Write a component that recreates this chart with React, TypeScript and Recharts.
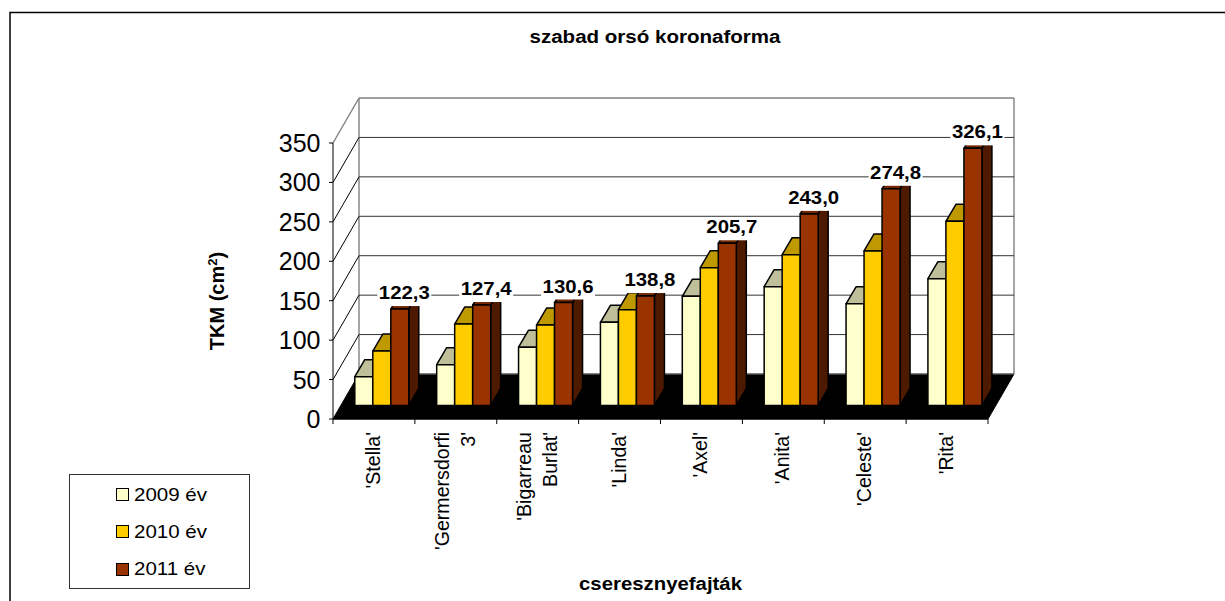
import React from "react";
import { BarChart, Bar, XAxis, YAxis, CartesianGrid, Legend, LabelList } from "recharts";

const categories = ["'Stella'", "'Germersdorfi|3'", "'Bigarreau|Burlat'", "'Linda'", "'Axel'", "'Anita'", "'Celeste'", "'Rita'"];
const values2009 = [36.5, 51.8, 74, 105.5, 138.4, 150.7, 129, 160.8];
const values2010 = [69, 103.3, 102, 121.5, 174.8, 191.2, 196, 233.6];
const values2011 = [122.3, 127.4, 130.6, 138.8, 205.7, 243.0, 274.8, 326.1];
const yTicks = [0, 50, 100, 150, 200, 250, 300, 350];
const seriesNames = ["2009 év", "2010 év", "2011 év"];

const data = categories.map((c, i) => ({ name: c, a: values2009[i], b: values2010[i], c: values2011[i] }));

const FONT = "Liberation Sans, Arial, sans-serif";
const WALL_DX = 26;
const WALL_DY = -45;
const BAR_DX = 7.8;
const BAR_DY = -13.5;
const DEPTH_DX = 10;
const DEPTH_DY = -17;
const STROKE = 1.5;

const makeBox = (front: string, top: string, side: string) => (p: any) => {
  const x = p.x + BAR_DX, y = p.y + BAR_DY, w = p.width, h = p.height;
  const poly = (pts: number[][], fill: string) => (
    <polygon points={pts.map((q) => q.join(",")).join(" ")} fill={fill} stroke="#000" strokeWidth={STROKE} strokeLinejoin="round" />
  );
  return (
    <g>
      {poly([[x, y], [x + DEPTH_DX, y + DEPTH_DY], [x + w + DEPTH_DX, y + DEPTH_DY], [x + w, y]], top)}
      {poly([[x + w, y], [x + w + DEPTH_DX, y + DEPTH_DY], [x + w + DEPTH_DX, y + h + DEPTH_DY], [x + w, y + h]], side)}
      {poly([[x, y], [x + w, y], [x + w, y + h], [x, y + h]], front)}
    </g>
  );
};

const GridLine = (p: any) => {
  const { x1, x2, y1 } = p;
  const isBase = Math.abs(y1 - 419) < 1;
  const isTop = Math.abs(y1 - 143) < 1;
  return (
    <g>
      {isBase && (
        <>
          <line x1={x1 + WALL_DX} x2={x1 + WALL_DX} y1={143 + WALL_DY} y2={419 + WALL_DY} stroke="#808080" strokeWidth={1.4} />
          <line x1={x2 + WALL_DX} x2={x2 + WALL_DX} y1={143 + WALL_DY} y2={419 + WALL_DY} stroke="#808080" strokeWidth={1.4} />
          <polygon
            points={`${x1},${y1} ${x2},${y1} ${x2 + WALL_DX},${y1 + WALL_DY} ${x1 + WALL_DX},${y1 + WALL_DY}`}
            fill="#000"
            stroke="#000"
          />
          <line x1={x1 + WALL_DX} x2={x2 + WALL_DX} y1={y1 + WALL_DY} y2={y1 + WALL_DY} stroke="#808080" strokeWidth={1.2} />
        </>
      )}
      {!isBase && (
        <>
          <line x1={x1} y1={y1} x2={x1 + WALL_DX} y2={y1 + WALL_DY} stroke={isTop ? "#808080" : "#000"} strokeWidth={isTop ? 1.4 : 1} />
          <line x1={x1 + WALL_DX} y1={y1 + WALL_DY} x2={x2 + WALL_DX} y2={y1 + WALL_DY} stroke={isTop ? "#808080" : "#333"} strokeWidth={isTop ? 1.4 : 1} />
        </>
      )}
    </g>
  );
};

const XTick = (p: any) => {
  const { x, y, payload, index } = p;
  const band = 655 / 8;
  const lines = String(payload.value).split("|");
  const last = index === categories.length - 1;
  const lh = 26;
  const cx = x - 1;
  return (
    <g>
      <line x1={x - band / 2} x2={x - band / 2} y1={y} y2={y + 5} stroke="#000" />
      {last && <line x1={x + band / 2} x2={x + band / 2} y1={y} y2={y + 5} stroke="#000" />}
      {lines.map((t, i) => {
        const tx = cx + (i - (lines.length - 1) / 2) * lh;
        return (
          <text key={i} x={tx} y={y + 13} transform={`rotate(-90 ${tx} ${y + 13})`} textAnchor="end" dominantBaseline="central" fontFamily={FONT} fontSize={19.6} fill="#000">
            {t}
          </text>
        );
      })}
    </g>
  );
};

const YTick = (p: any) => {
  const { x, y, payload } = p;
  return (
    <g>
      <line x1={x - 4} x2={x} y1={y} y2={y} stroke="#000" />
      <text x={x - 12.5} y={y + 9} textAnchor="end" fontFamily={FONT} fontSize={25} fill="#000">
        {payload.value}
      </text>
    </g>
  );
};

const ValueLabel = (p: any) => {
  const { x, y, width, value } = p;
  const cx = x + BAR_DX + width / 2 + 4.5;
  const top = y + BAR_DY;
  return (
    <g>
      <rect x={cx - 27} y={top - 26} width={54} height={23} fill="#fff" />
      <text x={cx} y={top - 16.5} textAnchor="middle" dominantBaseline="central" fontFamily={FONT} fontWeight="bold" fontSize={19} textLength={51} lengthAdjust="spacingAndGlyphs" fill="#000">
        {Number(value).toFixed(1).replace(".", ",")}
      </text>
    </g>
  );
};

const swatches = ["#FFFFCC", "#FFCC00", "#993300"];
const LegendBox = () => (
  <div style={{ width: 181, height: 115, boxSizing: "border-box", border: "1px solid #333", background: "#fff", fontFamily: FONT, fontSize: 19, color: "#000", position: "relative" }}>
    {seriesNames.map((n, i) => (
      <div key={n} style={{ position: "absolute", left: 46, top: 9.5 + i * 37.3, height: 20, display: "flex", alignItems: "center", whiteSpace: "nowrap" }}>
        <span style={{ display: "inline-block", boxSizing: "border-box", width: 13, height: 13, border: "1.5px solid #000", background: swatches[i], marginRight: 5 }} />
        <span style={{ display: "inline-block", transform: "scaleX(1.08)", transformOrigin: "left center" }}>{n}</span>
      </div>
    ))}
  </div>
);

export default function App() {
  return (
    <div style={{ position: "absolute", left: 0, top: 0, width: 1225, height: 601, background: "#fff", overflow: "hidden" }}>
      <BarChart
        width={1225}
        height={601}
        data={data}
        margin={{ left: 273, right: 237, top: 143, bottom: 142 }}
        barGap={0}
        barCategoryGap={14}
      >
        <path d="M10 601 L10 12.5 L1225 12.5" fill="none" stroke="#000" strokeWidth={1.5} />
        <CartesianGrid vertical={false} horizontal={(props: any) => <GridLine key={props.key} {...props} />} />
        <XAxis dataKey="name" height={40} interval={0} tick={<XTick />} tickSize={0} tickMargin={0} tickLine={false} axisLine={{ stroke: "#000" }} />
        <YAxis width={60} domain={[0, 350]} ticks={yTicks} interval={0} tick={<YTick />} tickSize={0} tickMargin={0} tickLine={false} axisLine={{ stroke: "#000" }} />
        <Bar dataKey="a" name={seriesNames[0]} fill={swatches[0]} isAnimationActive={false} shape={makeBox("#FFFFCC", "#BFBF99", "#808066")} />
        <Bar dataKey="b" name={seriesNames[1]} fill={swatches[1]} isAnimationActive={false} shape={makeBox("#FFCC00", "#BF9900", "#806600")} />
        <Bar dataKey="c" name={seriesNames[2]} fill={swatches[2]} isAnimationActive={false} shape={makeBox("#993300", "#732600", "#4D1A00")}>
          <LabelList dataKey="c" content={<ValueLabel />} />
        </Bar>
        <Legend layout="vertical" align="center" verticalAlign="middle" content={<LegendBox />} wrapperStyle={{ left: 69, top: 474, width: 181 }} />
        <text x={655} y={43} textAnchor="middle" fontFamily={FONT} fontWeight="bold" fontSize={18} fill="#000" textLength={251} lengthAdjust="spacingAndGlyphs">szabad orsó koronaforma</text>
        <text x={660.5} y={590} textAnchor="middle" fontFamily={FONT} fontWeight="bold" fontSize={18} fill="#000" textLength={163} lengthAdjust="spacingAndGlyphs">cseresznyefajták</text>
        <text x={223.5} y={301} transform="rotate(-90 223.5 301)" textAnchor="middle" fontFamily={FONT} fontWeight="bold" fontSize={20} fill="#000">
          TKM (cm<tspan dy={-7} fontSize={13}>2</tspan><tspan dy={7}>)</tspan>
        </text>
      </BarChart>
    </div>
  );
}
